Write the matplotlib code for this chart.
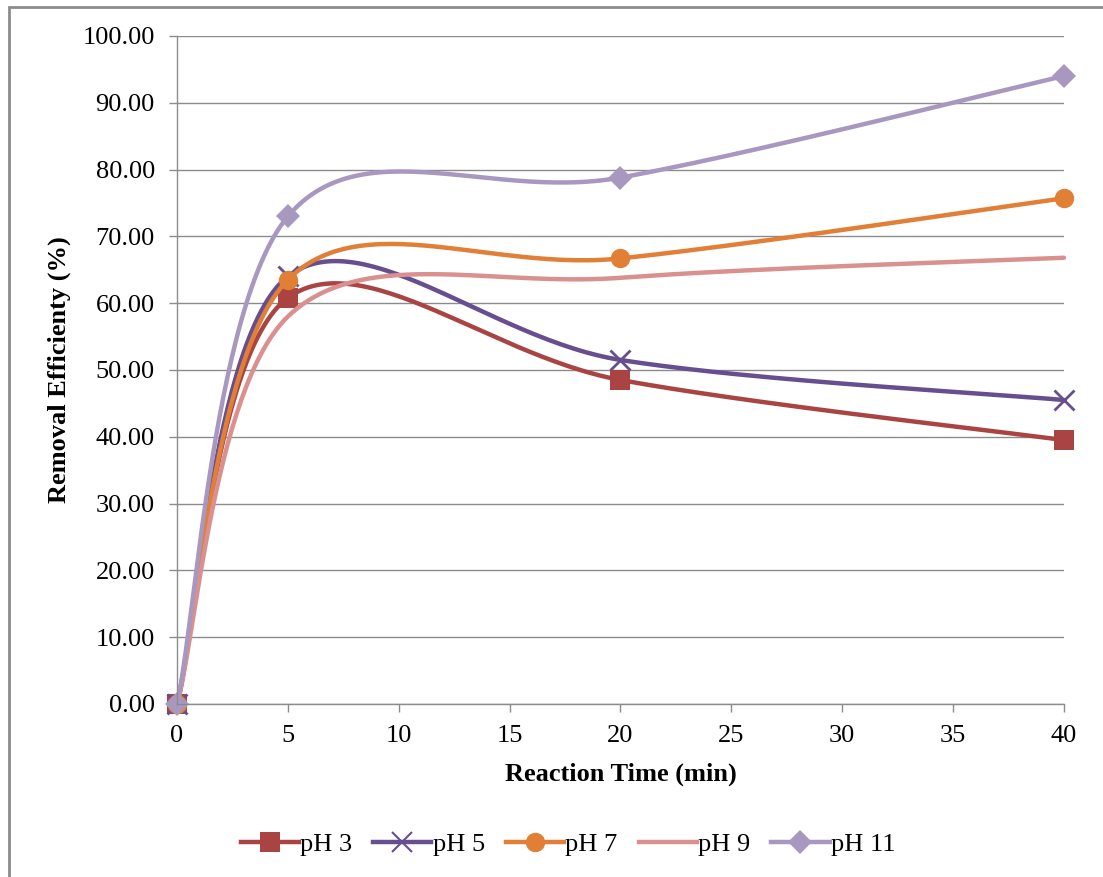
import numpy as np
import matplotlib
matplotlib.use("Agg")
import matplotlib.pyplot as plt
from matplotlib.lines import Line2D
from matplotlib.patches import Rectangle

plt.rcParams['font.family'] = ['Liberation Serif', 'DejaVu Serif']

times = [0, 5, 20, 40]
labels = ['pH 3', 'pH 5', 'pH 7', 'pH 9', 'pH 11']
ph3 = [0, 60.8, 48.5, 39.5]
ph5 = [0, 64.0, 51.5, 45.5]
ph7 = [0, 63.5, 66.7, 75.7]
ph9 = [0, 58.0, 63.8, 66.8]
ph11 = [0, 73.0, 78.8, 94.0]
series = [ph3, ph5, ph7, ph9, ph11]

colors = ['#A94442', '#664E8F', '#E07F35', '#D9908F', '#A898C0']
markers = ['s', 'x', 'o', None, 'D']
msizes = [14, 14, 14, 0, 12]


def smooth(xs, ys, n=60):
    # excel-like smoothing: bezier segments with catmull-rom control points
    p = np.column_stack([xs, ys]).astype(float)
    ext = np.vstack([p[0], p, p[-1]])
    out = []
    for i in range(len(p) - 1):
        p0, p3 = p[i], p[i + 1]
        c1 = p0 + (ext[i + 2] - ext[i]) / 6.0
        c2 = p3 - (ext[i + 3] - ext[i + 1]) / 6.0
        t = np.linspace(0, 1, n)[:, None]
        seg = ((1 - t) ** 3) * p0 + 3 * ((1 - t) ** 2) * t * c1 + 3 * (1 - t) * t ** 2 * c2 + t ** 3 * p3
        out.append(seg)
    s = np.vstack(out)
    return s[:, 0], s[:, 1]


fig = plt.figure(figsize=(11.03, 8.77), dpi=100)
ax = fig.add_axes([0.1605, 0.1973, 0.8041, 0.7617])

handles = []
for ys, lab, c, m, ms in zip(series, labels, colors, markers, msizes):
    sx, sy = smooth(times, ys)
    ax.plot(sx, sy, color=c, lw=3.2, solid_capstyle='round', clip_on=False)
    if m is not None:
        mew = 2 if m == 'x' else 0
        ax.plot(times, ys, linestyle='none', marker=m, markersize=ms, color=c,
                markeredgewidth=mew, clip_on=False)
    handles.append(Line2D([], [], color=c, lw=3.2, marker=m, markersize=ms if ms else 0,
                          markeredgewidth=1.5 if m == 'x' else 0))

ax.set_xlim(0, 40)
ax.set_ylim(0, 100)
ax.set_xticks(range(0, 41, 5))
ax.set_yticks(range(0, 101, 10))
ax.set_yticklabels(['%.2f' % v for v in range(0, 101, 10)])
ax.grid(axis='y', color='#8C8C8C', lw=1)
ax.set_axisbelow(True)
for s in ['top', 'right']:
    ax.spines[s].set_visible(False)
for s in ['left', 'bottom']:
    ax.spines[s].set_color('#8C8C8C')
    ax.spines[s].set_linewidth(1)
ax.tick_params(axis='both', colors='#8C8C8C', labelcolor='black', labelsize=19, length=6, width=1)
ax.tick_params(axis='y', pad=10)
ax.tick_params(axis='x', pad=9)
ax.set_xlabel('Reaction Time (min)', fontsize=19, fontweight='bold', labelpad=11)
ax.set_ylabel('Removal Efficienty (%)', fontsize=19, fontweight='bold', labelpad=8)

fig.legend(handles, labels, loc='center', bbox_to_anchor=(0.515, 0.037), ncol=5, frameon=False,
           fontsize=19, handlelength=2.2, handletextpad=0.05, columnspacing=0.8)

fig.patches.append(Rectangle((0.008, -0.05), 1.1, 1.042, transform=fig.transFigure,
                             fill=False, edgecolor='#8C8C8C', lw=2, clip_on=False))

fig.savefig('out.png', dpi=100)
